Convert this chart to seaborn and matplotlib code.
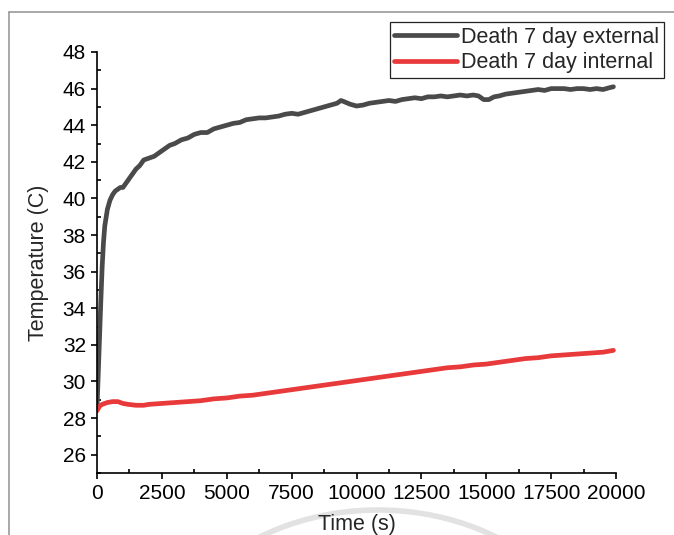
import numpy as np
import pandas as pd
import matplotlib
matplotlib.use("Agg")
import matplotlib.pyplot as plt
from matplotlib.patches import Arc
from matplotlib.lines import Line2D
from matplotlib.ticker import MultipleLocator
import seaborn as sns

# ---- data ----
ext_time = [0, 50, 100, 150, 200, 250, 300, 400, 500, 600, 700, 800, 900, 1000, 1100, 1200,
            1350, 1500, 1650, 1800, 2000, 2200, 2400, 2600, 2800, 3000, 3250, 3500, 3750,
            4000, 4250, 4500, 4750, 5000, 5250, 5500, 5750, 6000, 6250, 6500, 6750, 7000,
            7250, 7500, 7750, 8000, 8250, 8500, 8750, 9000, 9250, 9400, 9500, 9750, 10000,
            10250, 10500, 10750, 11000, 11250, 11500, 11750, 12000, 12250, 12500, 12750,
            13000, 13250, 13500, 13750, 14000, 14250, 14500, 14700, 14900, 15100, 15300,
            15500, 15750, 16000, 16250, 16500, 16750, 17000, 17250, 17500, 17750, 18000,
            18250, 18500, 18750, 19000, 19250, 19500, 19750, 19900]
ext_temp = [28.5, 30.5, 32.5, 34.5, 36.3, 37.6, 38.5, 39.4, 39.9, 40.2, 40.4, 40.5, 40.6, 40.6,
            40.8, 41.0, 41.3, 41.6, 41.8, 42.1, 42.2, 42.3, 42.5, 42.7, 42.9, 43.0, 43.2,
            43.3, 43.5, 43.6, 43.6, 43.8, 43.9, 44.0, 44.1, 44.15, 44.3, 44.35, 44.4, 44.4,
            44.45, 44.5, 44.6, 44.65, 44.6, 44.7, 44.8, 44.9, 45.0, 45.1, 45.2, 45.35, 45.3,
            45.15, 45.05, 45.1, 45.2, 45.25, 45.3, 45.35, 45.3, 45.4, 45.45, 45.5, 45.45,
            45.55, 45.55, 45.6, 45.55, 45.6, 45.65, 45.6, 45.65, 45.6, 45.4, 45.4, 45.55,
            45.6, 45.7, 45.75, 45.8, 45.85, 45.9, 45.95, 45.9, 46.0, 46.0, 46.0, 45.95, 46.0,
            46.0, 45.95, 46.0, 45.95, 46.05, 46.1]

int_time = [0, 100, 200, 400, 600, 800, 1000, 1200, 1500, 1800, 2000, 2500, 3000, 3500, 4000,
            4500, 5000, 5500, 6000, 6500, 7000, 7500, 8000, 8500, 9000, 9500, 10000, 10500,
            11000, 11500, 12000, 12500, 13000, 13500, 14000, 14500, 15000, 15500, 16000,
            16500, 17000, 17500, 18000, 18500, 19000, 19500, 19900]
int_temp = [28.4, 28.65, 28.75, 28.85, 28.9, 28.9, 28.8, 28.75, 28.7, 28.7, 28.75, 28.8, 28.85,
            28.9, 28.95, 29.05, 29.1, 29.2, 29.25, 29.35, 29.45, 29.55, 29.65, 29.75, 29.85,
            29.95, 30.05, 30.15, 30.25, 30.35, 30.45, 30.55, 30.65, 30.75, 30.8, 30.9, 30.95,
            31.05, 31.15, 31.25, 31.3, 31.4, 31.45, 31.5, 31.55, 31.6, 31.7]

series_names = ["Death 7 day external", "Death 7 day internal"]
x_ticks = [0, 2500, 5000, 7500, 10000, 12500, 15000, 17500, 20000]
y_ticks = [26, 28, 30, 32, 34, 36, 38, 40, 42, 44, 46, 48]

# ---- style ----
sns.set_style("ticks")
plt.rcParams["font.family"] = ["Liberation Sans", "DejaVu Sans"]

fig = plt.figure(figsize=(6.74, 5.35), dpi=100)
ax = fig.add_axes([97 / 674, 1 - 473 / 535, (616 - 97) / 674, (473 - 52) / 535])
ax.set_zorder(1)
ax.patch.set_alpha(0)

colors = ["#4a4a4a", "#e8393b"]
sns.lineplot(x=ext_time, y=ext_temp, ax=ax, color=colors[0], linewidth=3.4,
             label=series_names[0])
sns.lineplot(x=int_time, y=int_temp, ax=ax, color=colors[1], linewidth=3.4,
             label=series_names[1])

ax.set_xlim(0, 20000)
ax.set_ylim(25, 48)
ax.set_xticks(x_ticks)
ax.set_yticks(y_ticks)
ax.set_xticklabels([str(t) for t in x_ticks])
ax.set_yticklabels([str(t) for t in y_ticks])
ax.xaxis.set_minor_locator(MultipleLocator(1250))
ax.yaxis.set_minor_locator(MultipleLocator(1))

for s in ["top", "right"]:
    ax.spines[s].set_visible(False)
for s in ["left", "bottom"]:
    ax.spines[s].set_linewidth(1.2)
    ax.spines[s].set_color("black")

ax.tick_params(which="major", direction="out", length=4, width=1.2, labelsize=15,
               colors="black", pad=4)
ax.tick_params(which="minor", direction="in", length=3, width=1.2, colors="black")

ax.set_xlabel("Time (s)", fontsize=15.5, labelpad=8)
ax.set_ylabel("Temperature (C)", fontsize=15.5, labelpad=10)

leg = ax.legend(loc="upper right", bbox_to_anchor=(664 / 674, 1 - 22 / 535),
                bbox_transform=fig.transFigure, borderaxespad=0, fontsize=15.5,
                frameon=True, fancybox=False, handlelength=2.9, handletextpad=0.2,
                labelspacing=0.22, borderpad=0.22)
leg.get_frame().set_edgecolor("#222222")
leg.get_frame().set_linewidth(0.9)
leg.get_frame().set_alpha(1)
for lh in leg.get_lines():
    lh.set_linewidth(3.4)

# outer frame of the original figure
fig.add_artist(Line2D([9 / 674, 1], [1 - 12 / 535, 1 - 12 / 535], transform=fig.transFigure,
                      color="#9a9a9a", linewidth=1.2, zorder=0))
fig.add_artist(Line2D([9 / 674, 9 / 674], [0, 1 - 12 / 535], transform=fig.transFigure,
                      color="#9a9a9a", linewidth=1.2, zorder=0))
# faint watermark arc at the bottom
fig.add_artist(Arc((378 / 674, 1 - 700 / 535), 460 / 674, 380 / 535, theta1=45, theta2=135,
                   transform=fig.transFigure, color="#e2e2e2", linewidth=4, zorder=0))

fig.savefig("out.png", dpi=100)
